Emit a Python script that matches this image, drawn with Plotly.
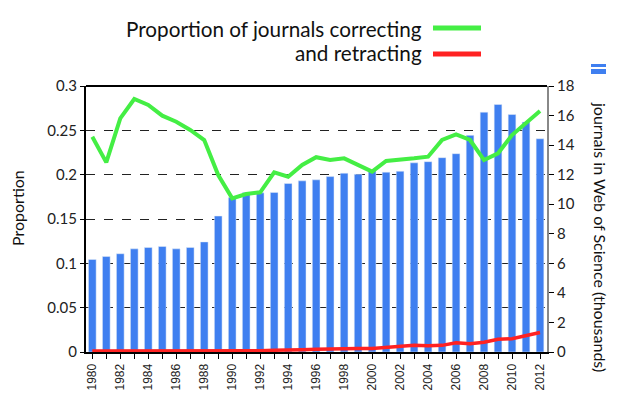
import plotly.graph_objects as go

years = list(range(1980, 2013))
journals_thousands = [6.26, 6.46, 6.65, 6.98, 7.07, 7.14, 6.98, 7.07, 7.45, 9.2,
                      10.45, 10.8, 10.77, 10.8, 11.4, 11.58, 11.65, 11.87, 12.1, 12.03,
                      12.3, 12.17, 12.23, 12.8, 12.88, 13.15, 13.42, 14.66, 16.23, 16.75,
                      16.07, 15.56, 14.43]
prop_correcting = [0.2428, 0.2139, 0.2635, 0.2853, 0.2786, 0.2665, 0.2597, 0.2504, 0.2391, 0.1996,
                   0.1733, 0.1782, 0.1801, 0.2027, 0.1977, 0.2109, 0.2197, 0.2165, 0.2184, 0.2109,
                   0.2034, 0.2154, 0.2165, 0.2184, 0.2203, 0.2391, 0.2455, 0.2391, 0.2165, 0.2241,
                   0.2447, 0.2579, 0.2718]
prop_retracting = [0.001, 0.001, 0.001, 0.001, 0.001, 0.001, 0.001, 0.001, 0.001, 0.001,
                   0.001, 0.001, 0.0015, 0.002, 0.002, 0.0025, 0.003, 0.0035, 0.004, 0.004,
                   0.004, 0.005, 0.006, 0.0075, 0.007, 0.0075, 0.0105, 0.0094, 0.011, 0.0143,
                   0.015, 0.018, 0.022]
tick_text = [str(y) if y % 2 == 0 else "" for y in years]

BLUE = "#3f7ff0"
GREEN = "#44ee44"
RED = "#ff2222"
FONT = "Lato"

fig = go.Figure()
fig.add_trace(go.Bar(x=years, y=journals_thousands, marker_color=BLUE, width=0.55,
                     yaxis="y", showlegend=False))
fig.add_trace(go.Scatter(x=years, y=prop_retracting, mode="lines", yaxis="y2",
                         line=dict(color=RED, width=3.5), showlegend=False))
fig.add_trace(go.Scatter(x=years, y=prop_correcting, mode="lines", yaxis="y2",
                         line=dict(color=GREEN, width=4), showlegend=False))

fig.update_layout(
    width=640, height=394,
    margin=dict(l=86, r=93, t=86, b=42, autoexpand=False),
    paper_bgcolor="white", plot_bgcolor="white",
    font=dict(family=FONT, color="#222222"),
    bargap=0.4,
    xaxis=dict(range=[1979.55, 2012.5], tickmode="array", tickvals=years, ticktext=tick_text,
               tickangle=-90, ticks="outside", ticklen=5, tickcolor="black", tickwidth=1,
               showline=True, linecolor="black", linewidth=2, showgrid=False, automargin=False,
               tickfont=dict(family="Liberation Sans", size=12, color="#222222")),
    yaxis=dict(side="right", range=[0, 18], dtick=2, showgrid=False, zeroline=False,
               showline=True, linecolor="#888888", linewidth=2, ticks="outside", automargin=False,
               ticklen=5, tickcolor="black", tickfont=dict(size=15, family=FONT)),
    yaxis2=dict(side="left", overlaying="y", range=[0, 0.3], dtick=0.05,
                showgrid=True, gridcolor="#222222", griddash="dash", gridwidth=1.2,
                zeroline=False, showline=True, linecolor="black", linewidth=2, automargin=False,
                ticks="outside", ticklen=4, tickcolor="black",
                tickfont=dict(size=15, family=FONT)),
)

P = 461.0
H = 266.0
def px(x):
    return (x - 86) / P
def py(y):
    return (352 - y) / H

shapes = [
    dict(type="line", xref="paper", yref="paper", x0=0, x1=1, y0=1, y1=1,
         line=dict(color="black", width=2)),
    dict(type="line", xref="paper", yref="paper", x0=px(433), x1=px(481), y0=py(28), y1=py(28),
         line=dict(color=GREEN, width=5)),
    dict(type="line", xref="paper", yref="paper", x0=px(433), x1=px(481), y0=py(54), y1=py(54),
         line=dict(color=RED, width=5)),
    dict(type="rect", xref="paper", yref="paper", x0=px(591), x1=px(606), y0=py(67), y1=py(64),
         fillcolor=BLUE, line=dict(width=0)),
    dict(type="rect", xref="paper", yref="paper", x0=px(591), x1=px(606), y0=py(74), y1=py(69),
         fillcolor=BLUE, line=dict(width=0)),
]
fig.update_layout(shapes=shapes)

annotations = [
    dict(text="Proportion of journals correcting", xref="paper", yref="paper",
         x=px(424), y=py(29), xanchor="right", yanchor="middle", showarrow=False,
         font=dict(size=20.7, family=FONT, color="#111111")),
    dict(text="and retracting", xref="paper", yref="paper",
         x=px(424), y=py(53), xanchor="right", yanchor="middle", showarrow=False,
         font=dict(size=20.7, family=FONT, color="#111111")),
    dict(text="Proportion", xref="paper", yref="paper", x=px(17), y=py(208),
         xanchor="center", yanchor="middle", textangle=-90, showarrow=False,
         font=dict(size=16, family=FONT, color="#111111")),
    dict(text="journals in Web of Science (thousands)", xref="paper", yref="paper",
         x=px(601), y=py(237), xanchor="center", yanchor="middle", textangle=90,
         showarrow=False, font=dict(size=16, family=FONT, color="#111111")),
]
fig.update_layout(annotations=annotations)

fig.write_html("out.html", config={"displayModeBar": False},
               post_script="document.body.style.margin='0';document.body.style.padding='0';")
